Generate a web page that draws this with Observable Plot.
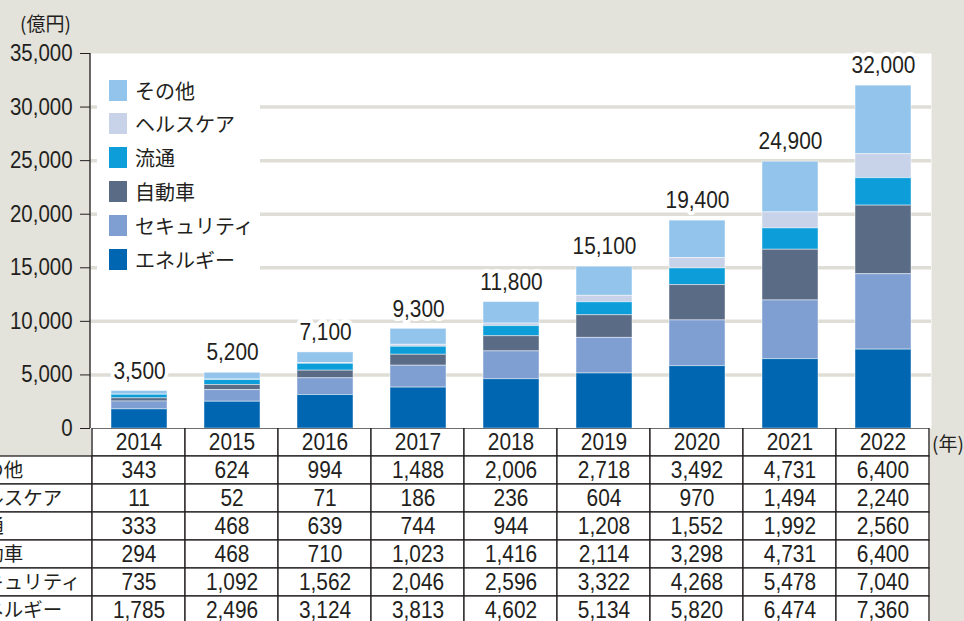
<!DOCTYPE html>
<html>
<head>
<meta charset="utf-8">
<script src="https://cdn.jsdelivr.net/npm/d3@7"></script>
<script src="https://cdn.jsdelivr.net/npm/@observablehq/plot@0.6"></script>
<style>
  html, body { margin: 0; padding: 0; background: #e3e2db; }
  #wrap { position: relative; width: 964px; height: 621px; overflow: hidden; background: #e3e2db; }
  #wrap svg { position: absolute; left: 0; }
  .jp { font-family: "Noto Sans CJK JP", sans-serif; color: #231f20; }
  #unit { position: absolute; left: 20px; top: 10px; font-size: 19px; line-height: 26px; }
  #nen { position: absolute; left: 932px; top: 430px; font-size: 19px; line-height: 26px; }
  #legend { position: absolute; left: 97px; top: 68px; width: 163px; height: 216px; background: #fff; }
  .lg-row { position: absolute; left: 12px; height: 34px; display: flex; align-items: center; font-size: 20px; }
  .lg-sw { width: 18px; height: 21px; margin-right: 8px; }
</style>
</head>
<body>
<div id="wrap">
  <div id="unit" class="jp">(億円)</div>
  <div id="nen" class="jp">(年)</div>
</div>
<script>
// ---- data ----
const years = ["2014", "2015", "2016", "2017", "2018", "2019", "2020", "2021", "2022"];
const totals = [3500, 5200, 7100, 9300, 11800, 15100, 19400, 24900, 32000];
const sonota = [343, 624, 994, 1488, 2006, 2718, 3492, 4731, 6400];
const healthcare = [11, 52, 71, 186, 236, 604, 970, 1494, 2240];
const ryutsu = [333, 468, 639, 744, 944, 1208, 1552, 1992, 2560];
const jidosha = [294, 468, 710, 1023, 1416, 2114, 3298, 4731, 6400];
const security = [735, 1092, 1562, 2046, 2596, 3322, 4268, 5478, 7040];
const energy = [1785, 2496, 3124, 3813, 4602, 5134, 5820, 6474, 7360];
const categories = ["その他", "ヘルスケア", "流通", "自動車", "セキュリティ", "エネルギー"]; // table / legend order (top to bottom)
const seriesValues = [sonota, healthcare, ryutsu, jidosha, security, energy];
const colors = ["#93c5ec", "#c8d3ea", "#0d9ed9", "#5a6b86", "#7f9fd3", "#0066b1"];
const yTicks = [0, 5000, 10000, 15000, 20000, 25000, 30000, 35000];
const gridTicks = [5000, 10000, 15000, 20000, 25000, 30000];

// ---- derived tables ----
const stackOrder = categories.slice().reverse(); // bottom to top
const longData = [];
years.forEach((yr, i) => {
  categories.forEach((c, k) => longData.push({year: yr, category: c, value: seriesValues[k][i]}));
});
const totalData = years.map((yr, i) => ({year: yr, total: totals[i]}));
const fmt = d3.format(",");

const numFont = '"Liberation Sans", Arial, sans-serif';
const ink = "#231f20";
const W = 964, L = 90, R = 931;
const NARROW = 0.87;

// condense numeric text (reference uses a condensed face)
function condense(svg) {
  d3.select(svg).selectAll("text").each(function () {
    const ff = (this.getAttribute("font-family") || (this.parentNode.getAttribute && this.parentNode.getAttribute("font-family")) || "");
    if (ff.includes("Noto")) return;
    const t = this.getAttribute("transform") || "";
    let x = parseFloat(this.getAttribute("x"));
    if (!isFinite(x)) x = 0;
    this.setAttribute("transform", `${t} translate(${x},0) scale(${NARROW},1) translate(${-x},0)`);
  });
}

// ---- chart ----
const chart = Plot.plot({
  width: W,
  height: 430,
  marginLeft: L,
  marginRight: W - R,
  marginTop: 53,
  marginBottom: 2,
  style: {fontFamily: numFont, fontSize: "23px", color: ink, background: "transparent", overflow: "visible"},
  x: {type: "band", domain: years, paddingInner: 0.4, paddingOuter: 0.2, axis: null},
  y: {domain: [0, 35000], axis: null},
  color: {domain: categories, range: colors},
  marks: [
    Plot.frame({fill: "white", stroke: null}),
    Plot.ruleY(gridTicks, {stroke: "#dfded6", strokeWidth: 3.5}),
    Plot.axisY(yTicks, {tickSize: 10, tickPadding: 8, tickFormat: fmt, fontSize: 23.5, stroke: ink, fill: ink}),
    Plot.barY(longData, {x: "year", y: "value", fill: "category", order: stackOrder, stroke: "white", strokeOpacity: 0.45, strokeWidth: 1}),
    Plot.text(totalData, {x: "year", y: "total", text: d => fmt(d.total), dy: -20, fontSize: 24, fill: ink, stroke: "white", strokeWidth: 8})
  ]
});
chart.style.top = "0px";
condense(chart);
// y-axis line
const ys = chart.scale("y");
d3.select(chart).append("line")
  .attr("x1", L).attr("x2", L)
  .attr("y1", ys.apply(35000)).attr("y2", ys.apply(0))
  .attr("stroke", ink).attr("stroke-width", 1.3);
document.getElementById("wrap").appendChild(chart);

// ---- legend ----
const legend = document.createElement("div");
legend.id = "legend";
legend.className = "jp";
categories.forEach((c, k) => {
  const row = document.createElement("div");
  row.className = "lg-row";
  row.style.top = (5 + k * 33.8) + "px";
  const sw = document.createElement("div");
  sw.className = "lg-sw";
  sw.style.background = colors[k];
  const tx = document.createElement("span");
  tx.textContent = c;
  row.appendChild(sw);
  row.appendChild(tx);
  legend.appendChild(row);
});
document.getElementById("wrap").appendChild(legend);

// ---- data table (drawn with Plot) ----
const step = (R - L) / years.length;
const rows = ["year", ...categories];
const rowH = 28.1;
const tCols = ["label", ...years];
const cellData = [];
const textData = [];
rows.forEach((r) => {
  tCols.forEach(c => {
    if (r === "year" && c === "label") return;
    cellData.push({row: r, col: c});
    if (r === "year") textData.push({row: r, col: c, text: c});
    else if (c !== "label") {
      const k = categories.indexOf(r);
      textData.push({row: r, col: c, text: fmt(seriesValues[k][years.indexOf(c)])});
    }
  });
});
const labelData = categories.map(c => ({row: c, col: "label", text: c}));

const table = Plot.plot({
  width: W,
  height: rows.length * rowH + 2,
  margin: 0,
  style: {fontFamily: numFont, fontSize: "23px", color: ink, background: "transparent"},
  x: {type: "band", domain: tCols, range: [L - step, R], padding: 0, axis: null},
  y: {type: "band", domain: rows, range: [0, rows.length * rowH], padding: 0, axis: null},
  marks: [
    Plot.cell(cellData, {x: "col", y: "row", fill: "white", stroke: ink, strokeWidth: 1.3, inset: 0}),
    Plot.text(textData, {x: "col", y: "row", text: "text", fontSize: 24, fill: ink}),
    Plot.text(labelData, {x: "col", y: "row", text: "text", textAnchor: "start", dx: -(L - step / 2) - 38, fontFamily: '"Noto Sans CJK JP", sans-serif', fontSize: 19.5, fill: ink})
  ]
});
table.style.top = "428px";
condense(table);
document.getElementById("wrap").appendChild(table);
</script>
</body>
</html>
